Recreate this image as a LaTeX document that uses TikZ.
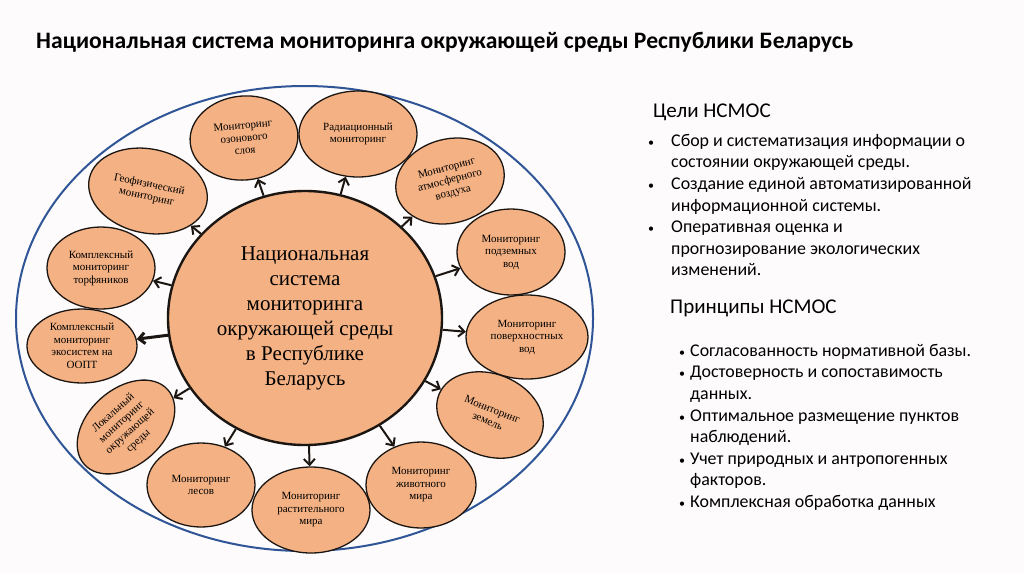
\documentclass[tikz,border=0pt]{standalone}
\usepackage{fontspec}
\setmainfont{Liberation Serif}
\setsansfont{Carlito}
\usetikzlibrary{arrows.meta,shapes.geometric}
\definecolor{peach}{RGB}{244,177,131}
\definecolor{rim}{RGB}{28,22,18}
\definecolor{ovalblue}{RGB}{47,85,151}
\definecolor{paper}{RGB}{253,251,251}
\newcommand{\dotmark}{{\fontsize{12}{12}\selectfont\textbullet}}
\newcommand{\bul}{\makebox[23pt][l]{\dotmark}}
\newcommand{\ind}{\hspace*{23pt}}
\newcommand{\pbul}{\makebox[11pt][l]{\dotmark}}
\newcommand{\pind}{\hspace*{11pt}}

\begin{document}
\begin{tikzpicture}[x=1pt,y=-1pt,
	mon/.style={ellipse,draw=rim,line width=1.3pt,fill=peach,inner sep=0pt,align=center,
		font=\fontsize{11}{12.5}\selectfont},
	arr/.style={-{Straight Barb[length=6pt,width=11pt]},line width=2pt,draw=rim},
	txt/.style={font=\sffamily\fontsize{17.9}{21.6}\selectfont,inner sep=0pt,align=left},
	head/.style={txt,font=\sffamily\fontsize{21}{25}\selectfont}]
	\fill[paper,use as bounding box] (0,0) rectangle (1024,574);
	\node[anchor=west,inner sep=0pt,font=\sffamily\bfseries\fontsize{23.6}{28}\selectfont] (ttl) at (36,42)
		{Национальная система мониторинга окружающей среды Республики Беларусь};
	% outer oval
	\draw[ovalblue,line width=2pt] (304.5,318.5) ellipse [x radius=288.5,y radius=232.5];
	% centre
	\node[ellipse,draw=rim,line width=2.4pt,fill=peach,minimum width=274pt,minimum height=254pt,
		align=center,font=\fontsize{21}{25}\selectfont] (nsm) at (305,318)
		{Национальная\\система\\мониторинга\\окружающей среды\\в Республике\\Беларусь};
	% ring of monitoring types
	\node[mon,minimum width=108pt,minimum height=84pt,rotate=5] (oz) at (244,138) {Мониторинг\\озонового\\слоя};
	\node[mon,minimum width=118pt,minimum height=86pt] (rad) at (358,134) {Радиационный\\мониторинг};
	\node[mon,minimum width=110pt,minimum height=84pt,rotate=15] (atm) at (450,181) {Мониторинг\\атмосферного\\воздуха};
	\node[mon,minimum width=108pt,minimum height=86pt] (podz) at (511,252) {Мониторинг\\подземных\\вод};
	\node[mon,minimum width=122pt,minimum height=84pt] (pov) at (527,337) {Мониторинг\\поверхностных\\вод};
	\node[mon,minimum width=110pt,minimum height=82pt,rotate=-22] (zem) at (490,415) {Мониторинг\\земель};
	\node[mon,minimum width=110pt,minimum height=86pt] (zhiv) at (421,485) {Мониторинг\\животного\\мира};
	\node[mon,minimum width=118pt,minimum height=86pt] (rast) at (311,510) {Мониторинг\\растительного\\мира};
	\node[mon,minimum width=108pt,minimum height=84pt] (les) at (201,485) {Мониторинг\\лесов};
	\node[mon,minimum width=112pt,minimum height=76pt,rotate=42] (lok) at (126,427) {Локальный\\мониторинг\\окружающей\\среды};
	\node[mon,minimum width=110pt,minimum height=74pt] (oopt) at (82,346) {Комплексный\\мониторинг\\экосистем на\\ООПТ};
	\node[mon,minimum width=108pt,minimum height=82pt] (torf) at (101,268) {Комплексный\\мониторинг\\торфяников};
	\node[mon,minimum width=120pt,minimum height=84pt,rotate=-12] (geo) at (148,191) {Геофизический\\мониторинг};
	\foreach \t in {oz,rad,atm,podz,pov,zem,zhiv,rast,les,lok,torf,geo}
		\draw[arr] (nsm) -- (\t);
	\draw[arr,line width=3pt] (nsm) -- (oopt);
	% right column
	\node[head,anchor=base west] (celi) at (653,117) {Цели НСМОС};
	\node[txt,anchor=north west] (celil) at (648,134)
		{\bul Сбор и систематизация информации о\\
		\ind состоянии окружающей среды.\\
		\bul Создание единой автоматизированной\\
		\ind информационной системы.\\
		\bul Оперативная оценка и\\
		\ind прогнозирование экологических\\
		\ind изменений.};
	\node[head,anchor=base west] (princ) at (670,313) {Принципы НСМОС};
	\node[txt,anchor=north west] (princl) at (679,344)
		{\pbul Согласованность нормативной базы.\\
		\pbul Достоверность и сопоставимость\\
		\pind данных.\\
		\pbul Оптимальное размещение пунктов\\
		\pind наблюдений.\\
		\pbul Учет природных и антропогенных\\
		\pind факторов.\\
		\pbul Комплексная обработка данных};
\end{tikzpicture}
\end{document}
